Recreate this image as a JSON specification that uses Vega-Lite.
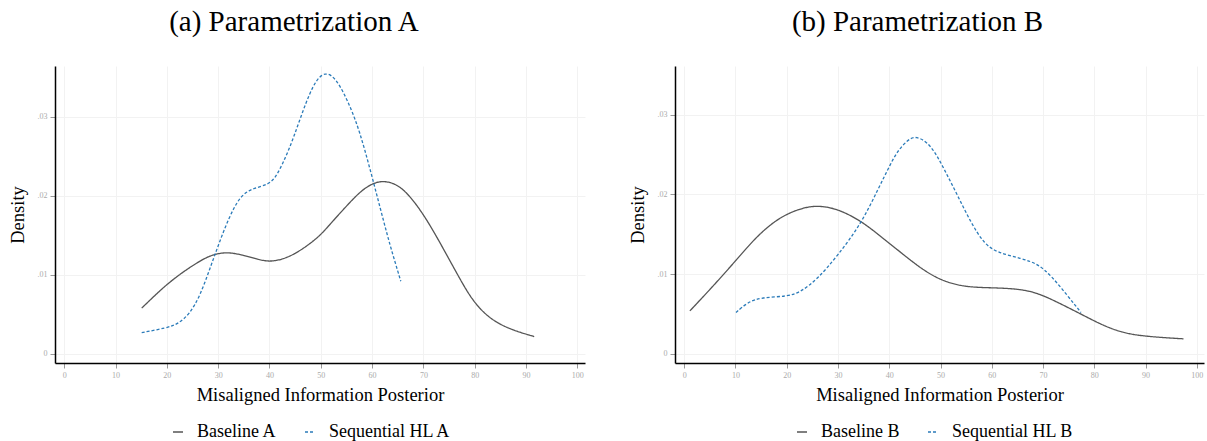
{
  "$schema": "https://vega.github.io/schema/vega-lite/v6.json",
  "background": "white",
  "padding": {"left": 8, "top": 8, "right": 4, "bottom": 0},
  "spacing": 43,
  "config": {
    "font": "Liberation Serif",
    "view": {"stroke": null},
    "axis": {
      "domainColor": "black",
      "domainWidth": 1.5,
      "tickColor": "#999999",
      "tickSize": 5,
      "labelColor": "#aaaaaa",
      "labelFont": "Liberation Serif",
      "labelFontSize": 8,
      "labelPadding": 3,
      "titleFont": "Liberation Serif",
      "titleFontSize": 18.5,
      "titleFontWeight": "normal",
      "titleColor": "black",
      "gridColor": "#f2f2f2",
      "gridWidth": 1
    },
    "axisX": {"titlePadding": 6},
    "axisY": {"titlePadding": 10},
    "title": {"font": "Liberation Serif", "fontSize": 29, "fontWeight": "normal", "color": "black", "offset": 29},
    "legend": {
      "orient": "none",
      "direction": "horizontal",
      "title": null,
      "symbolType": "stroke",
      "symbolSize": 100,
      "symbolStrokeWidth": 1.3,
      "labelFont": "Liberation Serif",
      "labelFontSize": 18,
      "labelColor": "black",
      "labelOffset": 10,
      "columnPadding": 24
    }
  },
  "resolve": {"scale": {"color": "independent", "strokeDash": "independent"}, "legend": {"color": "independent", "strokeDash": "independent"}},
  "hconcat": [
    {
      "width": 530,
      "height": 297,
      "title": {"text": "(a) Parametrization A", "dx": -26},
      "data": {"values": [
        {"x": 15.1, "density": 0.0058, "series": "Baseline A"},
        {"x": 17.5, "density": 0.0073, "series": "Baseline A"},
        {"x": 20, "density": 0.0088, "series": "Baseline A"},
        {"x": 23, "density": 0.0103, "series": "Baseline A"},
        {"x": 25.8, "density": 0.0115, "series": "Baseline A"},
        {"x": 28, "density": 0.0123, "series": "Baseline A"},
        {"x": 29.4, "density": 0.0126, "series": "Baseline A"},
        {"x": 31.7, "density": 0.0129, "series": "Baseline A"},
        {"x": 34.9, "density": 0.0125, "series": "Baseline A"},
        {"x": 37.5, "density": 0.012, "series": "Baseline A"},
        {"x": 40.1, "density": 0.0116, "series": "Baseline A"},
        {"x": 43.4, "density": 0.0121, "series": "Baseline A"},
        {"x": 46.6, "density": 0.0133, "series": "Baseline A"},
        {"x": 49.8, "density": 0.0149, "series": "Baseline A"},
        {"x": 51.8, "density": 0.0164, "series": "Baseline A"},
        {"x": 55.7, "density": 0.0192, "series": "Baseline A"},
        {"x": 58, "density": 0.0207, "series": "Baseline A"},
        {"x": 60.2, "density": 0.0216, "series": "Baseline A"},
        {"x": 62.2, "density": 0.0219, "series": "Baseline A"},
        {"x": 64.8, "density": 0.0215, "series": "Baseline A"},
        {"x": 67.4, "density": 0.02, "series": "Baseline A"},
        {"x": 70.6, "density": 0.0171, "series": "Baseline A"},
        {"x": 73.9, "density": 0.0133, "series": "Baseline A"},
        {"x": 77.1, "density": 0.0095, "series": "Baseline A"},
        {"x": 79.7, "density": 0.0066, "series": "Baseline A"},
        {"x": 83, "density": 0.0044, "series": "Baseline A"},
        {"x": 86.9, "density": 0.0031, "series": "Baseline A"},
        {"x": 91.6, "density": 0.0022, "series": "Baseline A"},
        {"x": 15.1, "density": 0.0027, "series": "Sequential HL A"},
        {"x": 20, "density": 0.0033, "series": "Sequential HL A"},
        {"x": 22.2, "density": 0.0038, "series": "Sequential HL A"},
        {"x": 24.5, "density": 0.0051, "series": "Sequential HL A"},
        {"x": 26.5, "density": 0.0074, "series": "Sequential HL A"},
        {"x": 28.4, "density": 0.0108, "series": "Sequential HL A"},
        {"x": 30, "density": 0.0137, "series": "Sequential HL A"},
        {"x": 32, "density": 0.0171, "series": "Sequential HL A"},
        {"x": 34.2, "density": 0.0199, "series": "Sequential HL A"},
        {"x": 36.5, "density": 0.0209, "series": "Sequential HL A"},
        {"x": 39.8, "density": 0.0214, "series": "Sequential HL A"},
        {"x": 41.4, "density": 0.0224, "series": "Sequential HL A"},
        {"x": 43.9, "density": 0.0259, "series": "Sequential HL A"},
        {"x": 45.9, "density": 0.0296, "series": "Sequential HL A"},
        {"x": 48.5, "density": 0.0342, "series": "Sequential HL A"},
        {"x": 50.8, "density": 0.0358, "series": "Sequential HL A"},
        {"x": 53.1, "density": 0.0348, "series": "Sequential HL A"},
        {"x": 55.7, "density": 0.0314, "series": "Sequential HL A"},
        {"x": 57.6, "density": 0.0281, "series": "Sequential HL A"},
        {"x": 59.6, "density": 0.0234, "series": "Sequential HL A"},
        {"x": 61.6, "density": 0.0184, "series": "Sequential HL A"},
        {"x": 63.5, "density": 0.0137, "series": "Sequential HL A"},
        {"x": 65.6, "density": 0.0092, "series": "Sequential HL A"}
      ]},
      "mark": {"type": "line", "interpolate": "basis", "strokeWidth": 1.3},
      "encoding": {
        "x": {"field": "x", "type": "quantitative", "scale": {"domain": [-1.8, 101.5], "nice": false, "zero": false},
              "axis": {"values": [0, 10, 20, 30, 40, 50, 60, 70, 80, 90, 100], "title": "Misaligned Information Posterior"}},
        "y": {"field": "density", "type": "quantitative", "scale": {"domain": [-0.00114, 0.0364], "nice": false, "zero": false},
              "axis": {"values": [0, 0.01, 0.02, 0.03], "labelExpr": "datum.value == 0 ? '0' : replace(format(datum.value, '.2f'), '0.', '.')", "title": "Density"}},
        "color": {"field": "series", "type": "nominal", "scale": {"domain": ["Baseline A", "Sequential HL A"], "range": ["#555555", "#2b7bb9"]},
                  "legend": {"legendX": 114, "legendY": 357}},
        "strokeDash": {"field": "series", "type": "nominal", "scale": {"domain": ["Baseline A", "Sequential HL A"], "range": [[1, 0], [3, 2]]},
                  "legend": {"legendX": 114, "legendY": 357}}
      }
    },
    {
      "width": 529,
      "height": 297,
      "title": {"text": "(b) Parametrization B", "dx": -22},
      "data": {"values": [
        {"x": 1.1, "density": 0.0054, "series": "Baseline B"},
        {"x": 5.2, "density": 0.0082, "series": "Baseline B"},
        {"x": 9.8, "density": 0.0115, "series": "Baseline B"},
        {"x": 14.3, "density": 0.0149, "series": "Baseline B"},
        {"x": 18.9, "density": 0.0173, "series": "Baseline B"},
        {"x": 23.4, "density": 0.0184, "series": "Baseline B"},
        {"x": 26.3, "density": 0.0186, "series": "Baseline B"},
        {"x": 29.9, "density": 0.0182, "series": "Baseline B"},
        {"x": 34.5, "density": 0.0167, "series": "Baseline B"},
        {"x": 38.4, "density": 0.0147, "series": "Baseline B"},
        {"x": 42.3, "density": 0.0127, "series": "Baseline B"},
        {"x": 46.2, "density": 0.0107, "series": "Baseline B"},
        {"x": 50.1, "density": 0.0092, "series": "Baseline B"},
        {"x": 54.6, "density": 0.0084, "series": "Baseline B"},
        {"x": 59.8, "density": 0.0083, "series": "Baseline B"},
        {"x": 64.4, "density": 0.0082, "series": "Baseline B"},
        {"x": 68.3, "density": 0.0078, "series": "Baseline B"},
        {"x": 72.2, "density": 0.0067, "series": "Baseline B"},
        {"x": 77.4, "density": 0.005, "series": "Baseline B"},
        {"x": 81.3, "density": 0.0037, "series": "Baseline B"},
        {"x": 85.2, "density": 0.0027, "series": "Baseline B"},
        {"x": 89.7, "density": 0.0022, "series": "Baseline B"},
        {"x": 97.4, "density": 0.0019, "series": "Baseline B"},
        {"x": 10.1, "density": 0.0052, "series": "Sequential HL B"},
        {"x": 12.4, "density": 0.0065, "series": "Sequential HL B"},
        {"x": 15, "density": 0.0071, "series": "Sequential HL B"},
        {"x": 20.2, "density": 0.0072, "series": "Sequential HL B"},
        {"x": 22.8, "density": 0.0078, "series": "Sequential HL B"},
        {"x": 26, "density": 0.0094, "series": "Sequential HL B"},
        {"x": 29.9, "density": 0.0123, "series": "Sequential HL B"},
        {"x": 34.5, "density": 0.0163, "series": "Sequential HL B"},
        {"x": 37.7, "density": 0.0205, "series": "Sequential HL B"},
        {"x": 40.3, "density": 0.0239, "series": "Sequential HL B"},
        {"x": 41.6, "density": 0.0254, "series": "Sequential HL B"},
        {"x": 43.5, "density": 0.0268, "series": "Sequential HL B"},
        {"x": 45.2, "density": 0.0274, "series": "Sequential HL B"},
        {"x": 48.1, "density": 0.0263, "series": "Sequential HL B"},
        {"x": 50.7, "density": 0.0232, "series": "Sequential HL B"},
        {"x": 53.3, "density": 0.0199, "series": "Sequential HL B"},
        {"x": 55.9, "density": 0.0165, "series": "Sequential HL B"},
        {"x": 58.5, "density": 0.0138, "series": "Sequential HL B"},
        {"x": 61.1, "density": 0.0127, "series": "Sequential HL B"},
        {"x": 65.7, "density": 0.012, "series": "Sequential HL B"},
        {"x": 69, "density": 0.0113, "series": "Sequential HL B"},
        {"x": 71.6, "density": 0.0098, "series": "Sequential HL B"},
        {"x": 74.8, "density": 0.0073, "series": "Sequential HL B"},
        {"x": 77.4, "density": 0.0052, "series": "Sequential HL B"}
      ]},
      "mark": {"type": "line", "interpolate": "basis", "strokeWidth": 1.3},
      "encoding": {
        "x": {"field": "x", "type": "quantitative", "scale": {"domain": [-1.8, 101.4], "nice": false, "zero": false},
              "axis": {"values": [0, 10, 20, 30, 40, 50, 60, 70, 80, 90, 100], "title": "Misaligned Information Posterior"}},
        "y": {"field": "density", "type": "quantitative", "scale": {"domain": [-0.00113, 0.0361], "nice": false, "zero": false},
              "axis": {"values": [0, 0.01, 0.02, 0.03], "labelExpr": "datum.value == 0 ? '0' : replace(format(datum.value, '.2f'), '0.', '.')", "title": "Density"}},
        "color": {"field": "series", "type": "nominal", "scale": {"domain": ["Baseline B", "Sequential HL B"], "range": ["#555555", "#2b7bb9"]},
                  "legend": {"legendX": 118, "legendY": 357}},
        "strokeDash": {"field": "series", "type": "nominal", "scale": {"domain": ["Baseline B", "Sequential HL B"], "range": [[1, 0], [3, 2]]},
                  "legend": {"legendX": 118, "legendY": 357}}
      }
    }
  ]
}
